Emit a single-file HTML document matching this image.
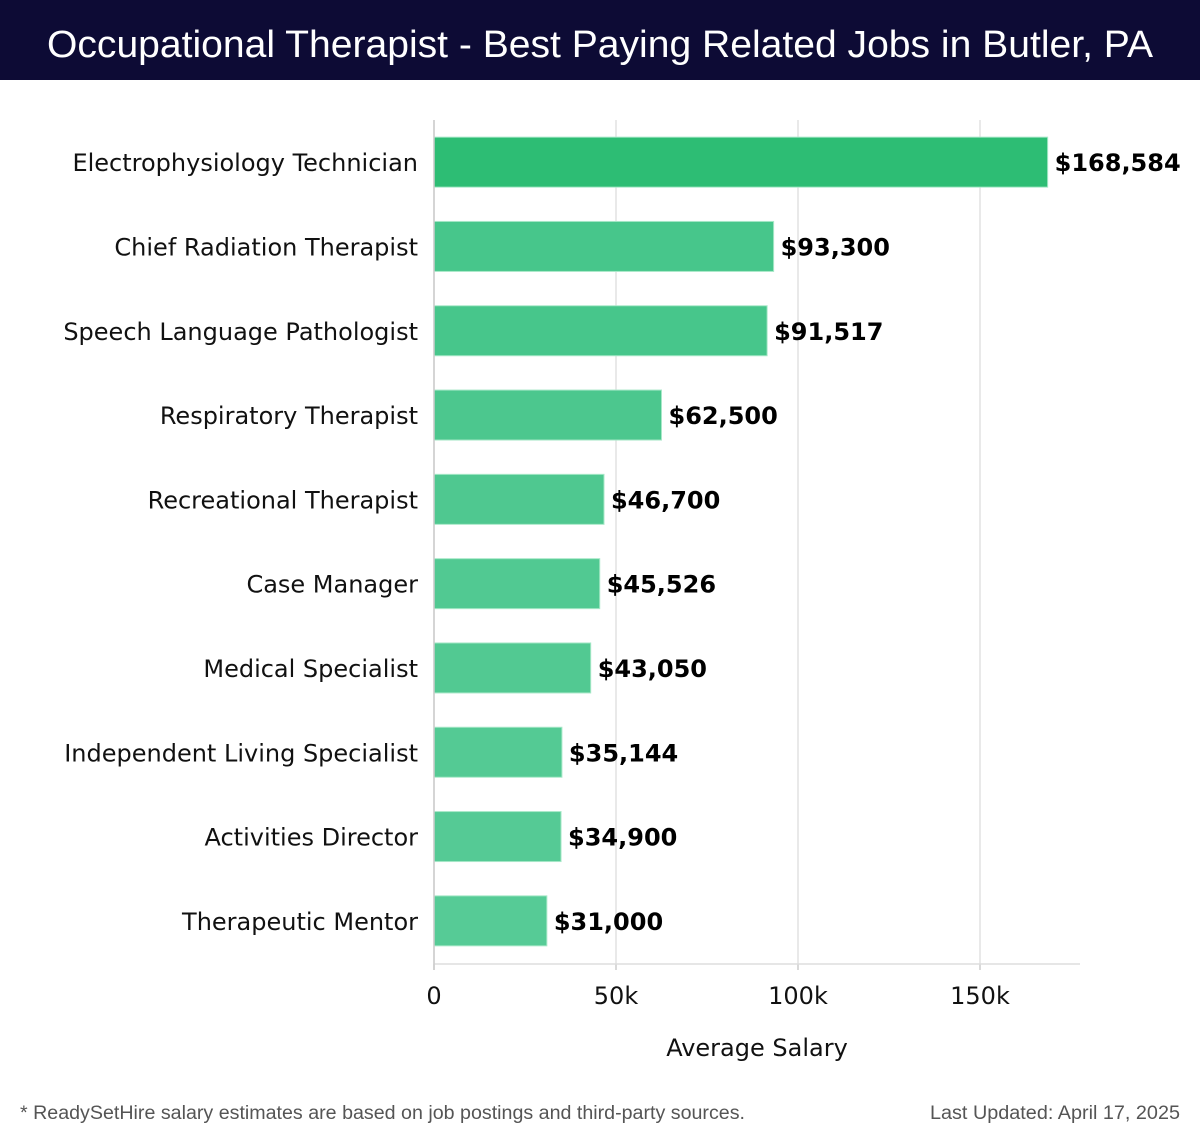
<!DOCTYPE html>
<html><head><meta charset="utf-8"><style>
html,body{margin:0;padding:0;background:#fff;width:1200px;height:1140px;overflow:hidden}
svg{display:block}
</style></head><body>
<svg id="chart" width="1200" height="1140" xmlns="http://www.w3.org/2000/svg">
<rect x="0" y="0" width="1200" height="80" fill="#0d0b35"/>
<text x="600" y="57" text-anchor="middle" fill="#fff" font-family="Liberation Sans, sans-serif" font-size="38" textLength="1106" lengthAdjust="spacingAndGlyphs">Occupational Therapist - Best Paying Related Jobs in Butler, PA</text>
<g id="grid"></g>
<g id="bars"></g>
<g id="axis"></g>
<text x="757" y="1056" text-anchor="middle" fill="#111" font-family="DejaVu Sans, sans-serif" font-size="24">Average Salary</text>
<text x="20" y="1119" fill="#555" font-family="Liberation Sans, sans-serif" font-size="19" textLength="725" lengthAdjust="spacingAndGlyphs">* ReadySetHire salary estimates are based on job postings and third-party sources.</text>
<text x="1180" y="1119" text-anchor="end" fill="#555" font-family="Liberation Sans, sans-serif" font-size="19" textLength="250" lengthAdjust="spacingAndGlyphs">Last Updated: April 17, 2025</text>
</svg>
<script>
const categories = ["Electrophysiology Technician","Chief Radiation Therapist","Speech Language Pathologist","Respiratory Therapist","Recreational Therapist","Case Manager","Medical Specialist","Independent Living Specialist","Activities Director","Therapeutic Mentor"];
const salaries = [168584,93300,91517,62500,46700,45526,43050,35144,34900,31000];
const tickValues = [0,50000,100000,150000];
const tickLabels = ["0","50k","100k","150k"];

const NS="http://www.w3.org/2000/svg";
const x0=434, pxPer=546/150000, plotTop=120, band=84.3, barH=50, axisY=964, axisRight=1080;
function xs(v){return x0+v*pxPer;}
function ys(i){return plotTop+band*i+(band-barH)/2;}
function mk(tag,attrs){const e=document.createElementNS(NS,tag);for(const k in attrs)e.setAttribute(k,attrs[k]);return e;}
const grid=document.getElementById('grid'), barsG=document.getElementById('bars'), axis=document.getElementById('axis');
tickValues.forEach((t,i)=>{
  const gl=mk('line',{x1:xs(t),x2:xs(t),y1:plotTop,y2:axisY,stroke:'#e2e2e2','stroke-width':1.5});
  
  
  grid.appendChild(gl);
  const tk=mk('line',{x1:xs(t),x2:xs(t),y1:axisY,y2:axisY+6,stroke:'#ccc','stroke-width':1.5});
  
  
  axis.appendChild(tk);
  const tl=mk('text',{x:xs(t),y:1004,'text-anchor':'middle','font-family':'DejaVu Sans, sans-serif','font-size':24,fill:'#111'});
  tl.textContent=tickLabels[i];
  
  
  axis.appendChild(tl);
});
const al=mk('line',{x1:x0,x2:axisRight,y1:axisY,y2:axisY,stroke:'#ddd','stroke-width':1.5});


axis.appendChild(al);
const colors=['#2dbd74','#47c68b','#47c68b','#4cc78e','#4fc890','#51c992','#52c992','#54ca94','#55ca95','#56cb96'];
categories.forEach((c,i)=>{
  const y=ys(i), w=xs(salaries[i])-x0;
  const r=mk('rect',{x:x0,y:y,width:w,height:barH,fill:colors[i],stroke:'#a8e8c8','stroke-width':1});
  
  
  barsG.appendChild(r);
  const lab=mk('text',{x:418,y:y+barH/2+9,'text-anchor':'end','font-family':'DejaVu Sans, sans-serif','font-size':24,fill:'#111'});
  lab.textContent=c;
  
  
  barsG.appendChild(lab);
  const v=mk('text',{x:xs(salaries[i])+7,y:y+barH/2+9,'font-family':'DejaVu Sans, sans-serif','font-size':24,'font-weight':'bold',fill:'#000'});
  v.textContent='$'+salaries[i].toLocaleString('en-US');
  
  
  barsG.appendChild(v);
});
const yl=mk('line',{x1:x0,x2:x0,y1:plotTop,y2:axisY+6,stroke:'#ccc','stroke-width':1.5});


axis.appendChild(yl);
</script>
</body></html>
